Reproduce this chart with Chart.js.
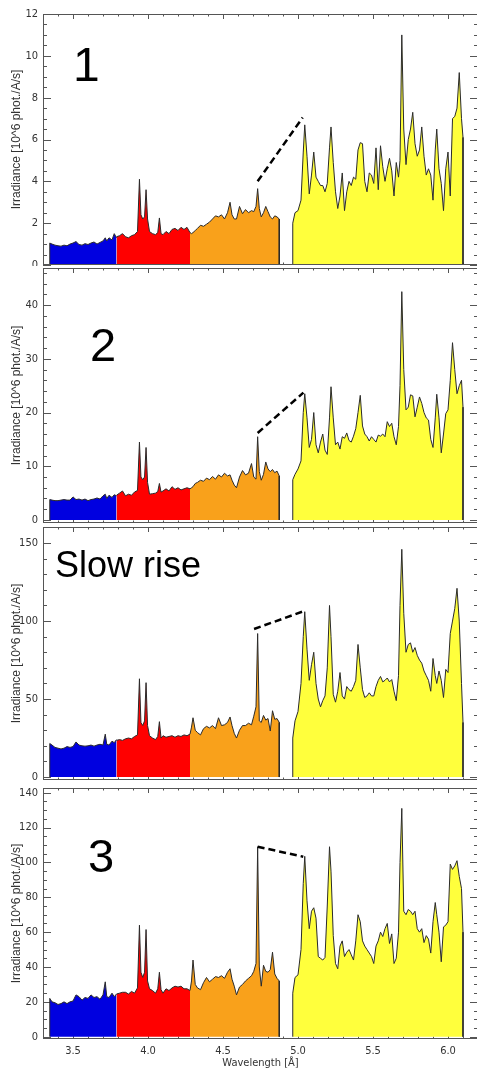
<!DOCTYPE html>
<html>
<head>
<meta charset="utf-8">
<script src="https://cdn.jsdelivr.net/npm/chart.js@4.4.0/dist/chart.umd.min.js"></script>
<style>
  html, body { margin: 0; padding: 0; background: #fff; }
  body { position: relative; width: 477px; height: 1070px; overflow: hidden; }
  canvas { position: absolute; left: 0; }
  .tag { position: absolute; font-family: 'Liberation Sans', Arial, sans-serif; line-height: 1; color: #000; white-space: nowrap; }
</style>
</head>
<body>
<canvas id="p1" width="480" height="266" style="top:0px"></canvas>
<canvas id="p2" width="480" height="259" style="top:266px"></canvas>
<canvas id="p3" width="480" height="257" style="top:525px"></canvas>
<canvas id="p4" width="480" height="288" style="top:782px"></canvas>
<div class="tag" style="left:73px; top:41px; font-size:48px;">1</div>
<div class="tag" style="left:90px; top:321px; font-size:47px;">2</div>
<div class="tag" style="left:55px; top:547px; font-size:36px;">Slow rise</div>
<div class="tag" style="left:88px; top:832px; font-size:47px;">3</div>
<script>
// wavelength grid of each coloured band [Angstrom]
const blueWl = [3.345, 3.36, 3.38, 3.40, 3.42, 3.44, 3.46, 3.48, 3.50, 3.52, 3.54, 3.56, 3.58, 3.60, 3.62, 3.64, 3.66, 3.68, 3.70, 3.715, 3.725, 3.74, 3.76, 3.775, 3.79];
const redWl = [3.79, 3.81, 3.83, 3.85, 3.87, 3.89, 3.91, 3.93, 3.943, 3.953, 3.965, 3.977, 3.987, 3.997, 4.01, 4.03, 4.05, 4.065, 4.076, 4.087, 4.10, 4.12, 4.14, 4.16, 4.18, 4.20, 4.22, 4.24, 4.26, 4.28];
const orangeWl = [4.28, 4.29, 4.30, 4.315, 4.33, 4.35, 4.37, 4.39, 4.41, 4.43, 4.45, 4.47, 4.49, 4.51, 4.53, 4.547, 4.56, 4.575, 4.59, 4.61, 4.63, 4.65, 4.67, 4.69, 4.705, 4.72, 4.731, 4.742, 4.755, 4.77, 4.785, 4.80, 4.815, 4.83, 4.845, 4.86, 4.875];
const yellowWl = [4.965, 4.98, 5.00, 5.02, 5.035, 5.045, 5.06, 5.075, 5.09, 5.105, 5.12, 5.135, 5.15, 5.165, 5.18, 5.195, 5.21, 5.22, 5.235, 5.25,
  5.265, 5.28, 5.295, 5.31, 5.325, 5.34, 5.355, 5.37, 5.385, 5.40, 5.415, 5.43, 5.445, 5.46, 5.475, 5.49, 5.505, 5.52, 5.535, 5.55,
  5.565, 5.58, 5.595, 5.61, 5.625, 5.64, 5.655, 5.67, 5.68, 5.692, 5.705, 5.72, 5.735, 5.75, 5.765, 5.78, 5.795, 5.81, 5.825, 5.84,
  5.855, 5.87, 5.885, 5.90, 5.915, 5.925, 5.94, 5.955, 5.97, 5.985, 6.00, 6.015, 6.03, 6.045, 6.06, 6.075, 6.09, 6.10];

// panel 1
const p1Blue = [1.05, 1.0, 0.95, 0.92, 0.9, 0.95, 0.92, 1.0, 1.05, 1.12, 0.98, 0.95, 1.02, 0.98, 1.05, 1.1, 1.0, 1.08, 1.15, 1.3, 1.15, 1.3, 1.2, 1.5, 1.3];
const p1Red = [1.35, 1.4, 1.5, 1.35, 1.3, 1.4, 1.45, 1.6, 4.1, 2.4, 2.2, 2.3, 3.6, 2.2, 1.6, 1.5, 1.45, 1.55, 2.25, 1.5, 1.45, 1.6, 1.5, 1.7, 1.75, 1.65, 1.8, 1.7, 1.8, 1.55];
const p1Orange = [1.55, 1.5, 1.55, 1.65, 1.75, 1.9, 1.85, 1.95, 2.05, 2.2, 2.35, 2.3, 2.4, 2.2, 2.5, 3.0, 2.4, 2.2, 2.2, 2.8,
  2.45, 2.65, 2.5, 2.6, 2.55, 2.8, 3.65, 2.7, 2.3, 2.5, 2.8, 2.55, 2.3, 2.2, 2.35, 2.3, 2.2];
const p1Yellow = [2.0, 2.5, 2.6, 3.1, 5.4, 6.7, 5.2, 3.4, 4.3, 5.4, 4.2, 4.0, 3.8, 3.8, 3.5, 3.9, 5.6, 6.6, 4.9, 3.5,
  2.7, 3.3, 4.4, 2.6, 3.5, 4.0, 3.8, 4.2, 4.1, 5.5, 5.85, 5.8, 4.0, 3.5, 4.4, 4.3, 3.9, 5.6, 3.6, 5.7,
  4.7, 4.0, 4.6, 5.1, 4.5, 3.3, 4.9, 4.2, 5.0, 11.0, 6.5, 4.8, 6.0, 6.5, 7.3, 5.8, 5.2, 5.5, 6.6, 5.2,
  4.3, 4.6, 4.3, 3.1, 5.5, 6.5, 4.6, 3.9, 2.6, 4.6, 5.4, 3.3, 7.0, 7.1, 7.5, 9.2, 7.0, 6.1];

// panel 2
const p2Blue = [3.8, 3.7, 3.6, 3.6, 3.7, 3.8, 3.7, 3.7, 4.3, 3.8, 3.9, 3.7, 3.9, 3.6, 3.8, 3.9, 4.1, 3.9, 4.5, 4.8, 4.0, 4.6, 4.2, 4.7, 4.5];
const p2Red = [4.6, 5.0, 5.4, 4.5, 4.8, 4.6, 5.2, 5.5, 14.5, 8.0, 7.5, 8.0, 13.5, 7.0, 4.8, 4.9, 5.0, 5.3, 6.8, 5.2, 5.4, 5.8, 5.4, 6.2, 5.7, 6.0, 5.6, 5.8, 6.0, 5.8];
const p2Orange = [5.8, 6.0, 6.2, 6.8, 7.0, 7.4, 7.2, 7.8, 7.5, 8.1, 7.6, 8.4, 8.0, 8.7, 8.2, 8.4, 7.4, 6.5, 6.0, 8.0,
  9.2, 8.4, 8.7, 10.5, 8.0, 7.6, 15.5, 9.0, 7.4, 8.5, 10.8, 9.5, 9.0, 9.4, 8.8, 9.1, 8.2];
const p2Yellow = [7.5, 8.5, 9.5, 11.0, 20.0, 23.5, 19.0, 13.5, 15.0, 20.0, 14.0, 12.5, 14.5, 16.0, 13.0, 12.2, 19.0, 24.8, 19.0, 14.0,
  14.5, 13.2, 15.5, 15.2, 16.2, 14.8, 14.5, 15.6, 17.0, 20.0, 23.2, 17.5, 16.0, 15.5, 14.7, 15.5, 15.0, 14.5, 15.8, 15.6,
  16.0, 15.5, 18.3, 17.4, 18.0, 15.5, 14.0, 17.4, 25.0, 42.5, 28.0, 20.5, 21.0, 23.3, 23.1, 19.2, 21.0, 22.9, 21.7, 20.0,
  19.0, 18.6, 15.0, 13.5, 19.0, 23.4, 19.0, 12.5, 16.0, 19.8, 20.5, 26.0, 33.0, 28.0, 23.5, 25.0, 26.0, 21.0];

// panel 3 (slow rise)
const p3Blue = [21.5, 20.5, 19.0, 18.5, 18.0, 18.5, 19.5, 19.0, 19.5, 22.5, 20.5, 20.0, 19.8, 20.0, 20.5, 19.8, 20.5, 21.0, 20.5, 27.5, 21.0, 20.5, 23.0, 22.0, 24.0];
const p3Red = [23.5, 24.0, 23.5, 24.5, 25.0, 24.5, 26.0, 27.0, 63.0, 35.0, 33.0, 36.0, 60.5, 33.0, 26.5, 25.0, 24.0, 26.0, 35.5, 25.0,
  26.5, 25.5, 26.0, 26.5, 25.5, 26.5, 26.0, 27.0, 26.5, 27.5];
const p3Orange = [27.5, 32.0, 38.0, 30.0, 28.5, 27.0, 31.0, 32.5, 31.5, 33.0, 31.0, 38.0, 33.0, 33.5, 35.0, 38.5, 33.0, 28.0, 25.0, 30.0,
  33.0, 33.0, 34.5, 33.5, 39.0, 45.0, 92.0, 36.0, 35.0, 39.5, 36.5, 37.5, 29.5, 42.5, 37.0, 37.5, 35.0];
const p3Yellow = [25.0, 36.0, 42.0, 60.0, 90.0, 106.0, 82.0, 62.0, 72.0, 80.0, 60.0, 50.0, 45.0, 49.0, 52.0, 70.0, 110.0, 90.0, 53.0, 48.0,
  55.0, 67.0, 52.0, 50.0, 58.0, 56.0, 55.0, 58.0, 62.0, 85.0, 70.0, 56.0, 51.0, 52.0, 54.0, 52.0, 52.0, 58.0, 62.0, 64.5,
  61.0, 62.0, 63.5, 61.0, 62.5, 55.0, 49.0, 65.0, 110.0, 146.0, 105.0, 80.0, 85.0, 86.0, 80.0, 83.0, 78.0, 75.0, 73.0, 68.0,
  65.0, 62.0, 55.0, 76.0, 65.0, 60.0, 68.0, 62.0, 51.0, 69.0, 67.0, 92.0, 100.0, 108.0, 121.0, 100.0, 60.0, 35.0];

// panel 4
const p4Blue = [22.0, 20.0, 19.5, 18.5, 19.0, 20.0, 19.0, 20.0, 20.5, 24.0, 23.0, 21.0, 22.5, 22.0, 24.0, 22.5, 23.0, 21.5, 24.0, 31.5, 23.0, 22.5, 25.0, 23.0, 24.5];
const p4Red = [24.5, 25.0, 25.5, 25.5, 24.5, 26.0, 25.0, 28.0, 64.0, 37.0, 34.0, 37.0, 61.5, 32.0, 27.5, 26.5, 25.0, 27.5, 37.0, 27.0,
  25.0, 27.5, 26.5, 28.0, 29.0, 28.5, 29.0, 27.5, 27.5, 26.5];
const p4Orange = [26.5, 32.0, 44.0, 30.0, 28.0, 27.0, 31.0, 34.0, 31.5, 33.0, 34.5, 34.0, 35.0, 33.5, 37.0, 39.0, 33.0, 29.0, 24.0, 28.5,
  30.0, 32.0, 33.5, 35.0, 37.5, 42.0, 109.0, 40.0, 29.0, 41.0, 37.5, 37.0, 38.5, 48.5, 36.0, 33.5, 32.0];
const p4Yellow = [25.0, 34.0, 35.5, 50.0, 88.0, 103.5, 78.0, 62.0, 72.0, 74.0, 68.0, 46.0, 45.0, 44.0, 45.5, 75.0, 109.0, 95.0, 58.0, 42.0,
  39.0, 52.0, 55.0, 46.0, 48.5, 50.0, 47.0, 44.0, 55.0, 70.0, 66.0, 55.0, 52.0, 50.0, 48.0, 46.0, 42.0, 52.0, 55.0, 60.0,
  57.5, 62.0, 65.0, 53.5, 59.0, 42.0, 45.0, 60.0, 100.0, 131.0, 72.0, 70.0, 73.0, 72.0, 70.0, 72.0, 62.0, 60.0, 62.0, 54.0,
  58.0, 56.0, 48.0, 66.0, 77.0, 70.0, 60.0, 43.0, 63.0, 64.0, 66.0, 99.0, 96.0, 98.0, 101.0, 92.0, 85.0, 60.0];

// dashed guide lines (wavelength, irradiance)
const dashWl1 = [4.731, 5.031], dash1 = [4.0, 7.05];
const dashWl2 = [4.731, 5.036], dash2 = [16.2, 23.7];
const dashWl3 = [4.707, 5.04], dash3 = [94.9, 106.4];
const dashWl4 = [4.731, 5.035], dash4 = [109, 103.3];

// axis ticks
const xTicks = [3.5, 4.0, 4.5, 5.0, 5.5, 6.0];
const yTicks1 = [0, 2, 4, 6, 8, 10, 12];
const yTicks2 = [0, 10, 20, 30, 40];
const yTicks3 = [0, 50, 100, 150];
const yTicks4 = [0, 20, 40, 60, 80, 100, 120, 140];

const narrow = "'Liberation Sans Narrow', 'DejaVu Sans Condensed', Arial, sans-serif";
const tickFont = { family: narrow, size: 11 };
const xTitleFont = { family: narrow, size: 11 };
const yTitleFont = { family: "'Liberation Sans', Arial, sans-serif", size: 12 };

// Helper function to turn one band into points, with optional drops to zero
function bandPoints(wl, flux, dropStart, dropEnd) {
    let pts = wl.map((w, i) => ({ x: w, y: flux[i] }));
    if (dropStart) pts.unshift({ x: wl[0], y: 0 });
    if (dropEnd) pts.push({ x: wl[wl.length - 1], y: 0 });
    return pts;
}

function band(color, pts) {
    return {
        data: pts,
        backgroundColor: color,
        borderColor: '#2a2a2a',
        borderWidth: 1,
        fill: 'origin',
        pointRadius: 0,
        tension: 0,
        order: 1,
    };
}

// Frame and inward ticks on all four sides (IDL look)
const frameTicks = {
    id: 'frameTicks',
    beforeDatasetsDraw(chart, args, opts) {
        const { ctx, chartArea: a, scales: { x, y } } = chart;
        ctx.save();
        ctx.strokeStyle = '#555';
        ctx.lineWidth = 1;
        ctx.beginPath();
        for (let k = 33; k <= 62; k++) {
            const px = Math.round(x.getPixelForValue(k / 10)) + 0.5;
            const len = k % 5 === 0 ? 5 : 2.5;
            ctx.moveTo(px, a.bottom); ctx.lineTo(px, a.bottom - len);
            ctx.moveTo(px, a.top); ctx.lineTo(px, a.top + len);
        }
        const k0 = Math.ceil(y.min / opts.minor), k1 = Math.floor(y.max / opts.minor);
        for (let k = k0; k <= k1; k++) {
            const v = k * opts.minor;
            const py = Math.round(y.getPixelForValue(v)) + 0.5;
            const r = v / opts.major;
            const len = Math.abs(r - Math.round(r)) < 1e-6 ? 8 : 4;
            ctx.moveTo(a.left, py); ctx.lineTo(a.left + len, py);
            ctx.moveTo(a.right, py); ctx.lineTo(a.right - len, py);
        }
        ctx.stroke();
        ctx.restore();
    },
    afterDatasetsDraw(chart) {
        const { ctx, chartArea: a } = chart;
        ctx.save();
        ctx.strokeStyle = '#555';
        ctx.lineWidth = 1;
        ctx.strokeRect(a.left + 0.5, a.top + 0.5, a.right - a.left - 1, a.bottom - a.top - 1);
        ctx.restore();
    },
};

function makePanel(id, bands, dashWl, dash, yMin, yMax, yTicks, minor, major, pad, showX) {
    const datasets = [
        {
            data: dashWl.map((w, i) => ({ x: w, y: dash[i] })),
            borderColor: '#000',
            borderWidth: 2.5,
            borderDash: [7, 4],
            fill: false,
            pointRadius: 0,
            order: 0,
        },
        band('#0000e0', bandPoints(blueWl, bands[0], true, false)),
        band('#ff0000', bandPoints(redWl, bands[1], false, false)),
        band('#f9a11b', bandPoints(orangeWl, bands[2], false, true)),
        band('#ffff3c', bandPoints(yellowWl, bands[3], true, true)),
    ];

    return new Chart(document.getElementById(id), {
        type: 'line',
        data: { datasets },
        options: {
            responsive: false,
            animation: false,
            devicePixelRatio: 1,
            layout: { padding: { top: pad[0], bottom: pad[1], left: 0, right: 2 } },
            plugins: {
                legend: { display: false },
                tooltip: { enabled: false },
                frameTicks: { minor, major },
            },
            scales: {
                x: {
                    type: 'linear',
                    min: 3.3,
                    max: 6.2,
                    display: showX,
                    afterBuildTicks: (s) => { s.ticks = xTicks.map(v => ({ value: v })); },
                    afterFit: (s) => {
                        if (showX) s.height = 31;
                        s.paddingLeft = 0;
                        s.paddingRight = 0;
                    },
                    ticks: { font: tickFont, color: '#333', padding: 6, maxRotation: 0, autoSkip: false, callback: (v) => v.toFixed(1) },
                    grid: { display: false, drawTicks: false },
                    border: { display: false },
                    title: { display: showX, text: 'Wavelength [Å]', font: xTitleFont, color: '#333', padding: 0 },
                },
                y: {
                    min: yMin,
                    max: yMax,
                    afterBuildTicks: (s) => { s.ticks = yTicks.map(v => ({ value: v })); },
                    afterFit: (s) => {
                        s.width = 43;
                        s.paddingTop = 0;
                        s.paddingBottom = 0;
                    },
                    ticks: { font: tickFont, color: '#333', padding: 5, autoSkip: false, callback: (v) => String(v) },
                    grid: { display: false, drawTicks: false },
                    border: { display: false },
                    title: { display: true, text: 'Irradiance [10^6 phot./A/s]', font: yTitleFont, color: '#333', padding: { top: 9, bottom: 0 } },
                },
            },
        },
        plugins: [frameTicks],
    });
}

makePanel('p1', [p1Blue, p1Red, p1Orange, p1Yellow], dashWl1, dash1, 0, 12, yTicks1, 0.5, 2, [14, 1], false);
makePanel('p2', [p2Blue, p2Red, p2Orange, p2Yellow], dashWl2, dash2, -0.56, 46.9, yTicks2, 2, 10, [2, 2], false);
makePanel('p3', [p3Blue, p3Red, p3Orange, p3Yellow], dashWl3, dash3, -1.9, 160.3, yTicks3, 10, 50, [2, 2], false);
makePanel('p4', [p4Blue, p4Red, p4Orange, p4Yellow], dashWl4, dash4, -1.3, 142.7, yTicks4, 5, 20, [6, 0], true);
</script>
</body>
</html>
